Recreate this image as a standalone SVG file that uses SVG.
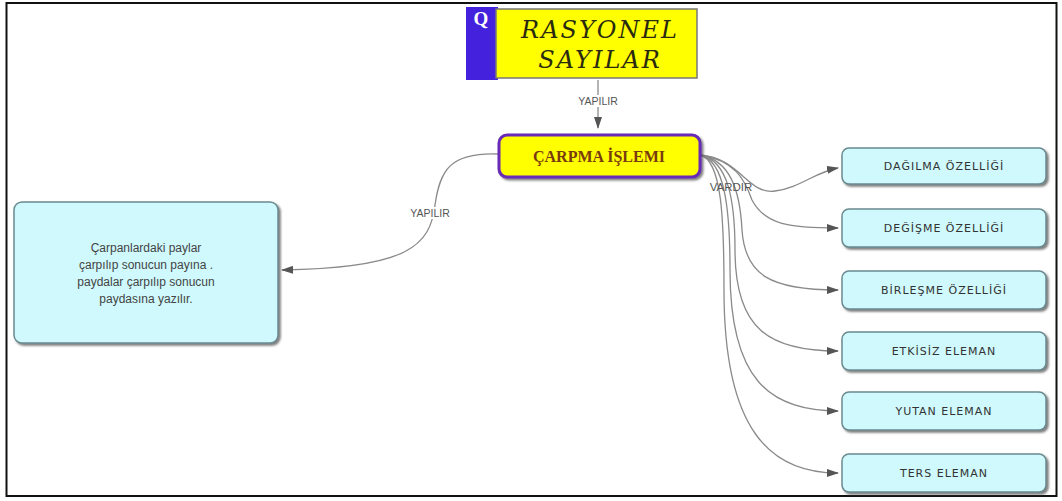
<svg xmlns="http://www.w3.org/2000/svg" width="1062" height="501" viewBox="0 0 1062 501">
<defs>
<marker id="ah" markerWidth="12" markerHeight="8" refX="11" refY="4" orient="auto" markerUnits="userSpaceOnUse">
<path d="M0,0 L12,4 L0,8 Z" fill="#555"/>
</marker>
<filter id="sh" x="-10%" y="-10%" width="130%" height="130%">
<feDropShadow dx="2" dy="2" stdDeviation="1.2" flood-color="#444" flood-opacity="0.7"/>
</filter>
</defs>
<style>
.conn{fill:none;stroke:#8a8a8a;stroke-width:1.3;marker-end:url(#ah)}
.lbl{font-family:"Liberation Sans",Arial,sans-serif;font-size:10.5px;fill:#555;text-anchor:middle}
.cy{fill:#cff9fc;stroke:#6a8a90;stroke-width:1.5;filter:url(#sh)}
.ct{font-family:"DejaVu Sans",sans-serif;font-size:11px;fill:#333;text-anchor:middle;letter-spacing:1px}
.lt{font-family:"Liberation Sans",Arial,sans-serif;font-size:12px;fill:#444;text-anchor:middle}
</style>
<rect x="0" y="0" width="1062" height="501" fill="#fff"/>
<rect x="6.5" y="3" width="1050" height="493" fill="none" stroke="#111" stroke-width="2"/>

<g id="connectors">
<path class="conn" d="M598,80 L598,128"/>
<path class="conn" d="M499,154 C450,152 440,170 435,205 C430,245 410,268 282,270"/>
<path class="conn" d="M700,155 C740,158 748,195 775,191 C800,188 815,172 838,168"/>
<path class="conn" d="M700,155 C735,160 745,180 752,200 C765,225 790,228 838,228"/>
<path class="conn" d="M700,155 C730,160 740,190 742,230 C745,275 770,290 838,290"/>
<path class="conn" d="M700,155 C728,160 735,200 735,250 C735,330 770,351 838,351"/>
<path class="conn" d="M700,155 C725,160 730,210 730,270 C730,380 770,411 838,411"/>
<path class="conn" d="M700,155 C722,160 724,220 724,290 C724,430 770,473 838,473"/>
<rect x="572" y="95" width="52" height="12" fill="#fff"/>
<text class="lbl" x="598" y="104.5">YAPILIR</text>
<rect x="404" y="207" width="52" height="12" fill="#fff"/>
<text class="lbl" x="430" y="216.5">YAPILIR</text>
<text class="lbl" x="731" y="190.5" style="font-size:11.5px">VARDIR</text>
</g>

<g id="node-rasyonel">
<rect x="466" y="7" width="32" height="73" fill="#4422dd"/>
<rect x="496" y="9" width="201" height="69" fill="#ffff00" stroke="#777" stroke-width="1.5"/>
<text x="481" y="25" font-family="'Liberation Serif',serif" font-weight="bold" font-size="19" fill="#fff" text-anchor="middle">Q</text>
<text x="600" y="38" font-family="'DejaVu Serif',serif" font-style="italic" font-size="24" fill="#2a2a10" text-anchor="middle" letter-spacing="2">RASYONEL</text>
<text x="600" y="68" font-family="'DejaVu Serif',serif" font-style="italic" font-size="24" fill="#2a2a10" text-anchor="middle" letter-spacing="2">SAYILAR</text>
</g>

<g id="node-carpma">
<rect x="499" y="135" width="201" height="42" rx="8" fill="#ffff00" stroke="#6a2bb8" stroke-width="3" filter="url(#sh)"/>
<text x="599" y="162" font-family="'Liberation Serif',serif" font-weight="bold" font-size="16" fill="#7a3a10" text-anchor="middle">ÇARPMA İŞLEMI</text>
</g>

<g id="node-aciklama">
<rect class="cy" x="14" y="202" width="264" height="141" rx="8"/>
<text class="lt" x="146" y="252">Çarpanlardaki paylar</text>
<text class="lt" x="146" y="269">çarpılıp sonucun payına .</text>
<text class="lt" x="146" y="286">paydalar çarpılıp sonucun</text>
<text class="lt" x="146" y="303">paydasına yazılır.</text>
</g>

<g id="node-dagilma">
<rect class="cy" x="842" y="148" width="204" height="36" rx="7"/>
<text class="ct" x="944" y="170">DAĞILMA ÖZELLİĞİ</text>
</g>
<g id="node-degisme">
<rect class="cy" x="842" y="209" width="204" height="38" rx="7"/>
<text class="ct" x="944" y="232">DEĞİŞME ÖZELLİĞİ</text>
</g>
<g id="node-birlesme">
<rect class="cy" x="842" y="271" width="204" height="38" rx="7"/>
<text class="ct" x="944" y="294">BİRLEŞME ÖZELLİĞİ</text>
</g>
<g id="node-etkisiz">
<rect class="cy" x="842" y="332" width="204" height="38" rx="7"/>
<text class="ct" x="944" y="355">ETKİSİZ ELEMAN</text>
</g>
<g id="node-yutan">
<rect class="cy" x="842" y="392" width="204" height="38" rx="7"/>
<text class="ct" x="944" y="415">YUTAN ELEMAN</text>
</g>
<g id="node-ters">
<rect class="cy" x="842" y="454" width="204" height="38" rx="7"/>
<text class="ct" x="944" y="477">TERS ELEMAN</text>
</g>
</svg>
